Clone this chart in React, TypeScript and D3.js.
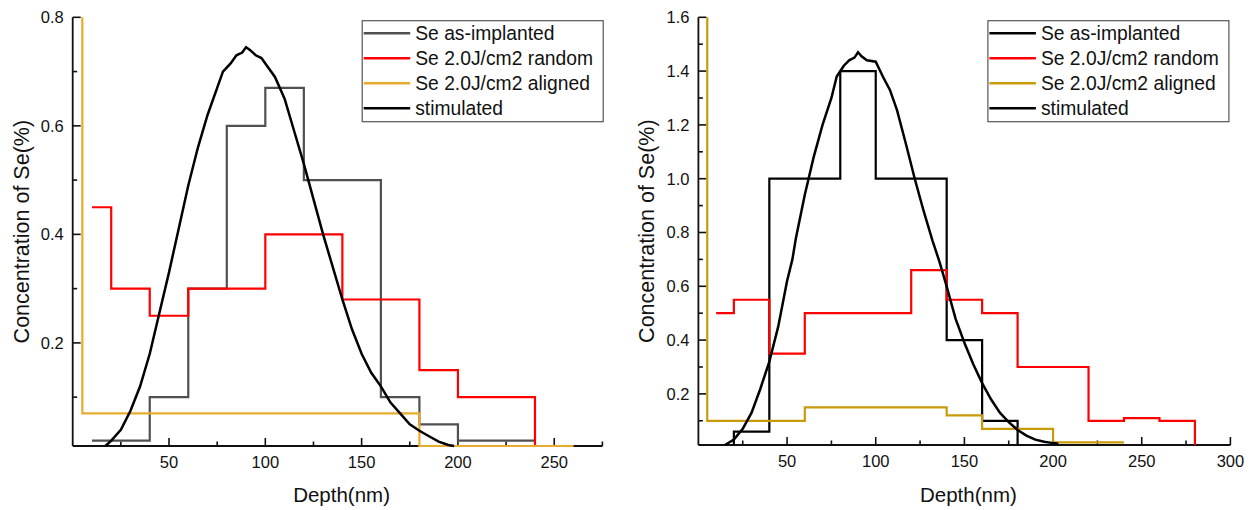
import React from "react";
import * as d3 from "d3";

// ---------- Data (left panel) ----------
const leftImplantX = [10, 40, 60, 80, 100, 120, 160, 180, 200, 240];
const leftImplantY = [0.02, 0.1, 0.3, 0.6, 0.67, 0.5, 0.1, 0.05, 0.02, 0.02];
const leftRandomX = [10, 20, 40, 60, 100, 140, 180, 200, 240];
const leftRandomY = [0.45, 0.3, 0.25, 0.3, 0.4, 0.28, 0.15, 0.1, 0];
const leftAlignedX = [5, 5, 180, 260];
const leftAlignedY = [0.8, 0.07, 0, 0];
const leftSimX = [17, 20, 25, 30, 35, 40, 45, 50, 55, 60, 65, 70, 75, 78, 82, 85, 88, 90, 92, 95, 98, 100, 105, 110, 115, 120, 125, 130, 135, 140, 145, 150, 155, 160, 165, 170, 175, 180, 185, 190, 195, 198];
const leftSimY = [0.01, 0.02, 0.04, 0.075, 0.12, 0.18, 0.255, 0.33, 0.41, 0.49, 0.56, 0.62, 0.67, 0.7, 0.715, 0.73, 0.735, 0.745, 0.74, 0.73, 0.725, 0.715, 0.69, 0.65, 0.59, 0.53, 0.465, 0.4, 0.34, 0.28, 0.225, 0.18, 0.145, 0.12, 0.09, 0.07, 0.05, 0.038, 0.028, 0.018, 0.012, 0.01];
const leftXTicks = [50, 100, 150, 200, 250];
const leftXMinor = [25, 75, 125, 175, 225, 275];
const leftYTicks = [0.2, 0.4, 0.6, 0.8];
const leftYMinor = [0.1, 0.3, 0.5, 0.7];

// ---------- Data (right panel) ----------
const rightImplantX = [20, 20, 40, 80, 100, 140, 160, 180];
const rightImplantY = [0, 0.06, 1.0, 1.4, 1.0, 0.4, 0.1, 0];
const rightRandomX = [10, 20, 40, 60, 120, 140, 160, 180, 220, 240, 260, 280];
const rightRandomY = [0.5, 0.55, 0.35, 0.5, 0.66, 0.55, 0.5, 0.3, 0.1, 0.11, 0.1, 0];
const rightAlignedX = [5, 5, 60, 140, 160, 200, 240];
const rightAlignedY = [1.6, 0.1, 0.15, 0.12, 0.07, 0.02, 0.02];
const rightSimX = [15, 20, 25, 30, 35, 40, 45, 50, 53, 55, 60, 65, 70, 75, 78, 82, 85, 88, 90, 92, 95, 100, 104, 108, 112, 117, 122, 127, 132, 136, 140, 145, 150, 155, 160, 165, 170, 175, 180, 185, 190, 195, 200, 203];
const rightSimY = [0.0, 0.03, 0.07, 0.13, 0.22, 0.32, 0.45, 0.62, 0.7, 0.78, 0.94, 1.08, 1.2, 1.3, 1.38, 1.42, 1.44, 1.45, 1.47, 1.455, 1.44, 1.435, 1.38, 1.33, 1.255, 1.13, 1.0, 0.88, 0.77, 0.69, 0.6, 0.48, 0.39, 0.31, 0.24, 0.18, 0.13, 0.095, 0.066, 0.045, 0.03, 0.022, 0.017, 0.015];
const rightXTicks = [50, 100, 150, 200, 250, 300];
const rightXMinor = [25, 75, 125, 175, 225, 275];
const rightYTicks = [0.2, 0.4, 0.6, 0.8, 1.0, 1.2, 1.4, 1.6];
const rightYMinor = [0.1, 0.3, 0.5, 0.7, 0.9, 1.1, 1.3, 1.5];

const legendLabels = ["Se as-implanted", "Se 2.0J/cm2 random", "Se 2.0J/cm2 aligned", "stimulated"];

const FONT = "'Liberation Sans', Arial, sans-serif";

type Series = { xs: number[]; ys: number[]; color: string; width: number; step: boolean };

function Panel(props: {
  x0: number; x1: number; y0: number; y1: number;
  xDomain: [number, number]; yDomain: [number, number];
  xTicks: number[]; xMinor: number[]; yTicks: number[]; yMinor: number[];
  series: Series[]; legendColors: string[];
}) {
  const { x0, x1, y0, y1 } = props;
  const x = d3.scaleLinear().domain(props.xDomain).range([x0, x1]);
  const y = d3.scaleLinear().domain(props.yDomain).range([y1, y0]).clamp(true);
  const fmtY = (v: number) => v.toFixed(1);
  const lx = x0 + 289.5;
  const ly = 20.7;
  return (
    <g>
      {/* axes */}
      <line x1={x0} x2={x1} y1={y1} y2={y1} stroke="#111" strokeWidth={1.8} />
      <line x1={x0} x2={x0} y1={y0} y2={y1} stroke="#111" strokeWidth={1.8} />
      {props.xTicks.map((t) => (
        <g key={"xt" + t}>
          <line x1={x(t)} x2={x(t)} y1={y1} y2={y1 - 8} stroke="#111" strokeWidth={1.6} />
          <text x={x(t)} y={y1 + 22} textAnchor="middle" fontSize={16.5} fontFamily={FONT} fill="#111">{t}</text>
        </g>
      ))}
      {props.xMinor.map((t) => (
        <line key={"xm" + t} x1={x(t)} x2={x(t)} y1={y1} y2={y1 - 4.5} stroke="#111" strokeWidth={1.6} />
      ))}
      {props.yTicks.map((t) => (
        <g key={"yt" + t}>
          <line x1={x0} x2={x0 + 8} y1={y(t)} y2={y(t)} stroke="#111" strokeWidth={1.6} />
          <text x={x0 - 9} y={y(t)} dy="0.36em" textAnchor="end" fontSize={16.5} fontFamily={FONT} fill="#111">{fmtY(t)}</text>
        </g>
      ))}
      {props.yMinor.map((t) => (
        <line key={"ym" + t} x1={x0} x2={x0 + 4.5} y1={y(t)} y2={y(t)} stroke="#111" strokeWidth={1.6} />
      ))}
      <text x={(x0 + x1) / 2 + 4} y={502} textAnchor="middle" fontSize={20.5} fontFamily={FONT} fill="#111">Depth(nm)</text>
      <text transform={`translate(${x0 - 44},${(y0 + y1) / 2}) rotate(-90)`} textAnchor="middle" fontSize={21.5} fontFamily={FONT} fill="#111">Concentration of Se(%)</text>
      {/* series */}
      {props.series.map((s, i) => {
        const pts = s.xs.map((v, j) => [v, s.ys[j]] as [number, number]);
        const gen = d3.line<[number, number]>().x((d) => x(d[0])).y((d) => y(d[1]));
        if (s.step) gen.curve(d3.curveStepAfter);
        return <path key={i} d={gen(pts) || ""} fill="none" stroke={s.color} strokeWidth={s.width} strokeLinejoin="miter" />;
      })}
      {/* legend */}
      <rect x={lx} y={ly} width={241} height={101} fill="#fff" stroke="#555" strokeWidth={1.2} />
      {legendLabels.map((lab, i) => {
        const ry = ly + 12.6 + i * 25;
        return (
          <g key={lab}>
            <line x1={lx + 1.5} x2={lx + 48} y1={ry} y2={ry} stroke={props.legendColors[i]} strokeWidth={2.4} />
            <text x={lx + 53} y={ry} dy="0.35em" fontSize={19.3} fontFamily={FONT} fill="#111">{lab}</text>
          </g>
        );
      })}
    </g>
  );
}

export default function App() {
  const leftColors = ["#505050", "#ff0000", "#e8ab2c", "#000000"];
  const rightColors = ["#000000", "#ff0000", "#c99a0a", "#000000"];
  return (
    <svg width={1254} height={510} style={{ position: "absolute", left: 0, top: 0, background: "#fff" }}>
      <rect x={0} y={0} width={1254} height={510} fill="#fff" />
      <Panel
        x0={72.7} x1={602.4} y0={17.3} y1={446}
        xDomain={[0, 275]} yDomain={[0.01, 0.8]}
        xTicks={leftXTicks} xMinor={leftXMinor} yTicks={leftYTicks} yMinor={leftYMinor}
        legendColors={leftColors}
        series={[
          { xs: leftImplantX, ys: leftImplantY, color: leftColors[0], width: 2.2, step: true },
          { xs: leftRandomX, ys: leftRandomY, color: leftColors[1], width: 2.2, step: true },
          { xs: leftAlignedX, ys: leftAlignedY, color: leftColors[2], width: 2.2, step: true },
          { xs: leftSimX, ys: leftSimY, color: leftColors[3], width: 2.5, step: false },
        ]}
      />
      <Panel
        x0={698.4} x1={1230.4} y0={17.3} y1={445}
        xDomain={[0, 300]} yDomain={[0.01, 1.6]}
        xTicks={rightXTicks} xMinor={rightXMinor} yTicks={rightYTicks} yMinor={rightYMinor}
        legendColors={rightColors}
        series={[
          { xs: rightImplantX, ys: rightImplantY, color: rightColors[0], width: 2.2, step: true },
          { xs: rightRandomX, ys: rightRandomY, color: rightColors[1], width: 2.2, step: true },
          { xs: rightAlignedX, ys: rightAlignedY, color: rightColors[2], width: 2.2, step: true },
          { xs: rightSimX, ys: rightSimY, color: rightColors[3], width: 2.5, step: false },
        ]}
      />
    </svg>
  );
}
